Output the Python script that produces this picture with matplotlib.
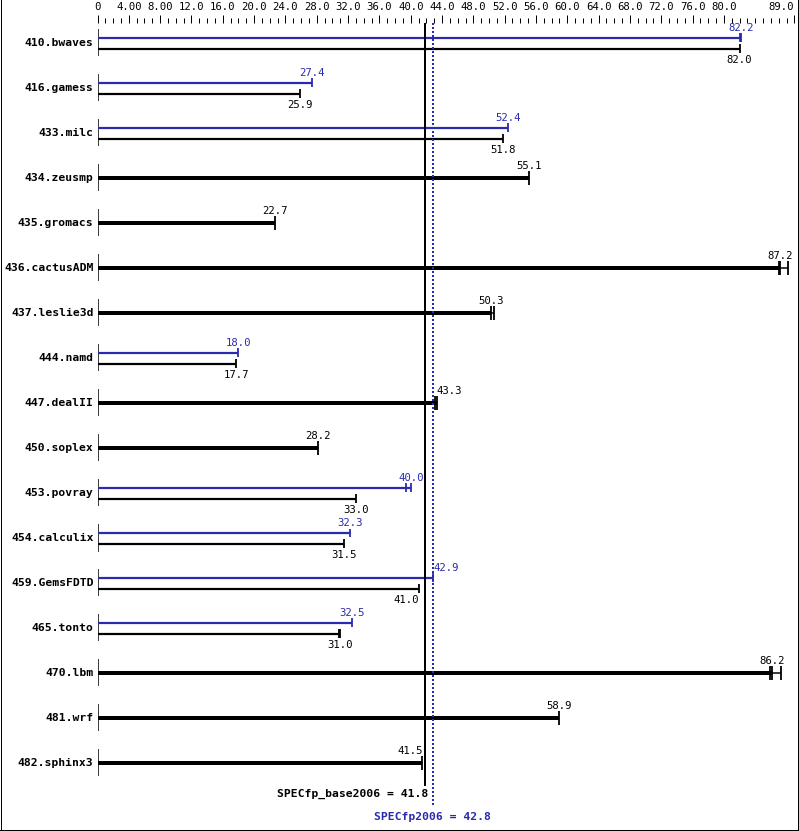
import matplotlib
matplotlib.use("Agg")
from matplotlib import pyplot as plt
from matplotlib.lines import Line2D

# Benchmarks, top to bottom
benchmarks = ["410.bwaves", "416.gamess", "433.milc", "434.zeusmp", "435.gromacs",
              "436.cactusADM", "437.leslie3d", "444.namd", "447.dealII", "450.soplex",
              "453.povray", "454.calculix", "459.GemsFDTD", "465.tonto", "470.lbm",
              "481.wrf", "482.sphinx3"]

# Base ratios (median) and the individual run values
base_scores = [82.0, 25.9, 51.8, 55.1, 22.7, 87.2, 50.3, 17.7, 43.3, 28.2,
               33.0, 31.5, 41.0, 31.0, 86.2, 58.9, 41.5]
base_runs = [[82.0], [25.9], [51.8], [55.1], [22.7], [87.0, 87.2, 88.2], [50.3, 50.6],
             [17.7], [43.1, 43.3], [28.2], [33.0], [31.5], [41.0], [30.8, 31.0],
             [85.9, 86.2, 87.3], [58.9], [41.5]]

# Peak ratios (None where peak was not run separately)
peak_scores = [82.2, 27.4, 52.4, None, None, None, None, 18.0, None, None,
               40.0, 32.3, 42.9, 32.5, None, None, None]
peak_runs = [[82.1, 82.2], [27.4], [52.4], [], [], [], [], [18.0], [], [],
             [39.4, 40.0], [32.3], [42.9], [32.5], [], [], []]

# Overall scores
specfp_base = 41.8
specfp_peak = 42.8

# Top axis ticks
major_ticks = [0, 4, 8, 12, 16, 20, 24, 28, 32, 36, 40, 44, 48, 52, 56, 60, 64, 68, 72, 76, 80, 89]
major_labels = ["0", "4.00", "8.00", "12.0", "16.0", "20.0", "24.0", "28.0", "32.0", "36.0",
                "40.0", "44.0", "48.0", "52.0", "56.0", "60.0", "64.0", "68.0", "72.0",
                "76.0", "80.0", "89.0"]
minor_ticks = list(range(0, 90))

W, H = 799, 831
blue = "#2a2aae"
mono = "DejaVu Sans Mono"
scale = 7.83       # pixels per unit
x0 = 97.5          # pixel of zero
row0, row_step = 43, 45
ax_top = 23
num_size = 7.7

fig = plt.figure(figsize=(W / 100, H / 100), dpi=100)
ax = fig.add_axes([x0 / W, 0, (797 - x0) / W, (H - ax_top) / H])
ax.set_xlim(0, (797 - x0) / scale)
ax.set_ylim((H - row0) / row_step, (ax_top - row0) / row_step)
for s in ax.spines.values():
    s.set_visible(False)

py = 1.0 / row_step   # one pixel in y data units
px = 1.0 / scale      # one pixel in x data units
lw = 0.72             # one pixel in points

ax.xaxis.tick_top()
ax.set_xticks(major_ticks)
ax.set_xticklabels(major_labels, fontsize=num_size, family=mono)
ax.set_xticks(minor_ticks, minor=True)
ax.tick_params(axis="x", which="major", length=8 * lw, width=lw, pad=2.5)
ax.tick_params(axis="x", which="minor", length=5 * lw, width=lw)
ax.get_xticklabels()[-1].set_ha("right")
ax.set_yticks([])


def place_label(value, y, text, color):
    # keep values clear of the overall score lines
    left = value - 12 * px
    right = value + 12 * px
    ha = "center"
    if left < specfp_peak + 1 * px and right > specfp_base - 1 * px:
        ha = "left" if value > (specfp_base + specfp_peak) / 2 else "right"
    ax.text(value, y, text, ha=ha, va="center", fontsize=num_size, family=mono, color=color)


def draw_bar(y, score, runs, color, width, tick_h):
    ax.hlines(y, 0, score, color=color, lw=width * lw, zorder=2)
    if len(runs) > 1:
        ax.hlines(y, min(runs), max(runs), color=color, lw=1.5 * lw, zorder=2)
    ax.vlines(runs, y - tick_h * py, y + tick_h * py, color=color, lw=1.8 * lw, zorder=2)


for i, name in enumerate(benchmarks):
    ax.vlines(0, i - 13.5 * py, i + 13.5 * py, color="black", lw=1.5 * lw, zorder=2)
    ax.text(-4 * px, i, name, ha="right", va="center", fontsize=8.2,
            family=mono, weight="bold", clip_on=False)
    if peak_scores[i] is not None:
        yb = i - 5 * py
        yk = i + 6 * py
        draw_bar(yb, peak_scores[i], peak_runs[i], blue, 2.2, 4.5)
        draw_bar(yk, base_scores[i], base_runs[i], "black", 2.2, 4.5)
        place_label(peak_scores[i], yb - 10 * py, "%.1f" % peak_scores[i], blue)
        place_label(base_scores[i], yk + 11 * py, "%.1f" % base_scores[i], "black")
    else:
        draw_bar(i, base_scores[i], base_runs[i], "black", 4, 7)
        place_label(base_scores[i], i - 12 * py, "%.1f" % base_scores[i], "black")

# Overall score lines
y_top = (ax_top - row0) / row_step
ax.vlines(specfp_base, y_top, (786 - row0) / row_step, color="black", lw=2 * lw, zorder=3)
ax.vlines(specfp_peak, y_top, (807 - row0) / row_step, color=blue, lw=2 * lw,
          linestyles=(0, (1, 1)), zorder=3)
ax.text(specfp_base + 3 * px, (794 - row0) / row_step, "SPECfp_base2006 = %.1f" % specfp_base,
        ha="right", va="center", fontsize=8.2, family=mono, weight="bold")
ax.text(specfp_peak, (817 - row0) / row_step, "SPECfp2006 = %.1f" % specfp_peak,
        ha="center", va="center", fontsize=8.2, family=mono, weight="bold", color=blue)

# Frame around the picture
for xs, ys in [([0.5, 0.5], [0, H]), ([797.5, 797.5], [0, H]), ([0, W], [1.5, 1.5])]:
    fig.add_artist(Line2D([x / W for x in xs], [y / H for y in ys],
                          transform=fig.transFigure, color="black", lw=lw))

fig.savefig("out.png", dpi=100)
